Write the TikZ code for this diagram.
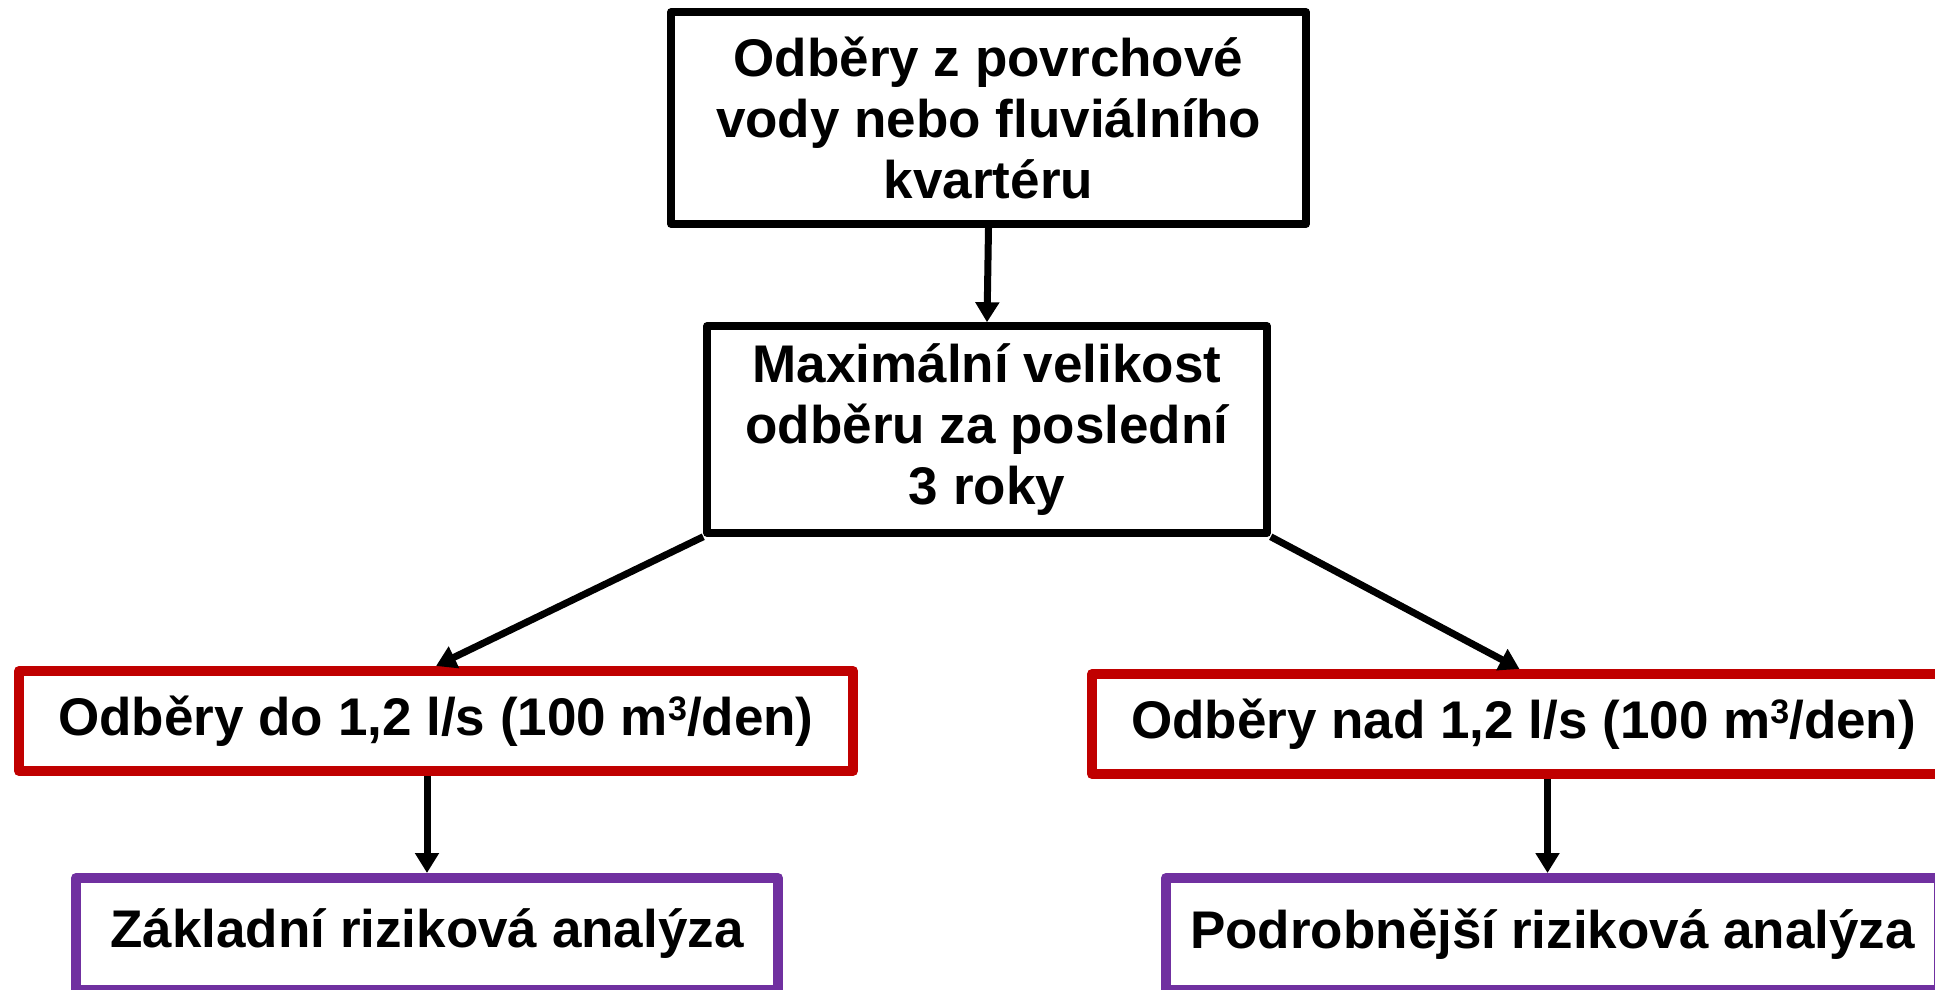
\documentclass[tikz,border=0pt]{standalone}
\usepackage{fontspec}
\setmainfont{Liberation Sans}
\usetikzlibrary{arrows.meta,calc}
\definecolor{boxred}{HTML}{C00000}
\definecolor{boxpurple}{HTML}{7030A0}
\newcommand{\cubed}{\raisebox{15pt}{\fontsize{34}{34}\selectfont 3}}
\tikzset{
  boxbase/.style={draw, rectangle, inner sep=0pt, line join=round, align=center,
    font=\fontsize{53}{61}\selectfont\bfseries, fill=white},
  blackbox/.style={boxbase, draw=black, line width=7.5pt},
  redbox/.style={boxbase, draw=boxred, line width=10pt},
  purplebox/.style={boxbase, draw=boxpurple, line width=10pt},
  conn/.style={draw=black, line width=7pt, -{Triangle[width=23pt,length=20pt]}}
}
\begin{document}
\begin{tikzpicture}[x=1pt,y=-1pt]
\useasboundingbox (0,0) rectangle (1935,989);
\clip (0,0) rectangle (1935,989);
\fill[white] (0,0) rectangle (1935,989);

\node[blackbox, minimum width=635pt, minimum height=212pt] (top) at (988.5,118)
  {Odběry z povrchové\\vody nebo fluviálního\\kvartéru};
\node[blackbox, minimum width=560pt, minimum height=207pt] (mid) at (987,429.5)
  {Maximální velikost\\odběru za poslední\\3 roky};
\node[redbox, minimum width=834pt, minimum height=100pt] (redL) at (436,721)
  {Odběry do 1,2 l/s (100 m\cubed/den)};
\node[redbox, minimum width=863pt, minimum height=100pt] (redR) at (1523.5,724)
  {Odběry nad 1,2 l/s (100 m\cubed/den)};
\node[purplebox, minimum width=702pt, minimum height=112pt] (purL) at (427,934)
  {Základní riziková analýza};
\node[purplebox, minimum width=773pt, minimum height=112pt] (purR) at (1552.5,934)
  {Podrobnější riziková analýza};

\draw[conn] (top.south) -- (mid.north);
\draw[conn] (mid.south west) -- (redL.north);
\draw[conn] (mid.south east) -- ([xshift=-4pt]redR.north);
\draw[conn] (redL.south -| purL.north) -- (purL.north);
\draw[conn] ([xshift=-5pt]redR.south -| purR.north) -- ([xshift=-5pt]purR.north);
\end{tikzpicture}
\end{document}
